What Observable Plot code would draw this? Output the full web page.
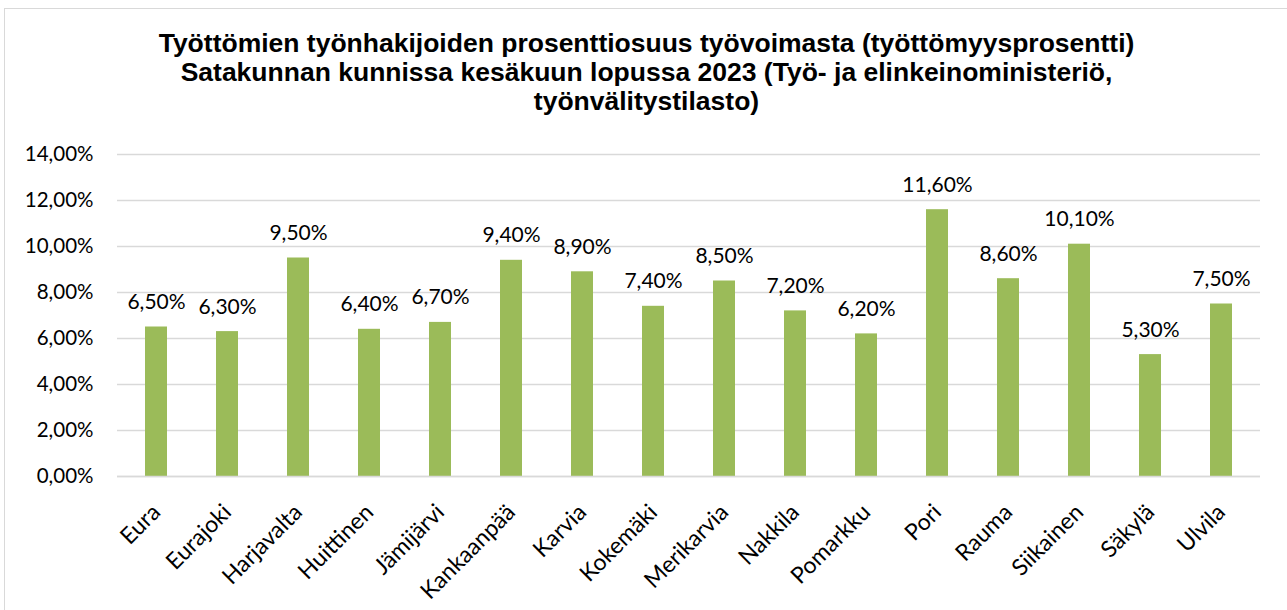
<!DOCTYPE html>
<html>
<head>
<meta charset="utf-8">
<script src="https://cdn.jsdelivr.net/npm/d3@7"></script>
<script src="https://cdn.jsdelivr.net/npm/@observablehq/plot@0.6"></script>
<style>
  html, body { margin: 0; padding: 0; background: #fff; overflow: hidden; }
  #frame { position: absolute; left: 4px; top: 8px; width: 1290px; height: 620px; border: 1px solid #d9d9d9; box-sizing: border-box; }
  #title { position: absolute; left: 0; top: 29px; width: 1293px; text-align: center; font-family: "Liberation Sans", Arial, sans-serif; font-weight: bold; font-size: 26.5px; line-height: 29px; color: #000; }
  #chart { position: absolute; left: 0; top: 130px; }
</style>
</head>
<body>
<div id="frame"></div>
<div id="title">Työttömien työnhakijoiden prosenttiosuus työvoimasta (työttömyysprosentti)<br>Satakunnan kunnissa kesäkuun lopussa 2023 (Työ- ja elinkeinoministeriö,<br>työnvälitystilasto)</div>
<div id="chart"></div>
<script>
const municipalities = ["Eura","Eurajoki","Harjavalta","Huittinen","Jämijärvi","Kankaanpää","Karvia","Kokemäki","Merikarvia","Nakkila","Pomarkku","Pori","Rauma","Siikainen","Säkylä","Ulvila"];
const rates = [6.5, 6.3, 9.5, 6.4, 6.7, 9.4, 8.9, 7.4, 8.5, 7.2, 6.2, 11.6, 8.6, 10.1, 5.3, 7.5];
const yTicks = [0, 2, 4, 6, 8, 10, 12, 14];

const data = municipalities.map((m, i) => ({name: m, value: rates[i]}));
const fmt = v => v.toFixed(2).replace(".", ",") + "%";
const font = "Lato, 'Open Sans', sans-serif";

const chart = Plot.plot({
  width: 1287,
  height: 480,
  marginTop: 24,
  marginBottom: 134,
  marginLeft: 117,
  marginRight: 27,
  style: {fontFamily: font, fontSize: "20px", color: "#000", background: "transparent"},
  x: {domain: municipalities, paddingInner: 0.69, paddingOuter: 0.345, label: null},
  y: {domain: [0, 14], label: null},
  marks: [
    Plot.gridY(yTicks, {stroke: "#d9d9d9", strokeOpacity: 1, strokeWidth: 1.5}),
    Plot.barY(data, {x: "name", y: "value", fill: "#9bbb59"}),
    Plot.ruleY([0], {stroke: "#d9d9d9", strokeWidth: 1.5}),
    Plot.text(data, {x: "name", y: "value", text: d => fmt(d.value), dy: -18, lineAnchor: "bottom", fontSize: 21, fill: "#000"}),
    Plot.axisY({ticks: yTicks, tickFormat: fmt, tickSize: 0, tickPadding: 24, fontSize: 20.5, label: null}),
    Plot.axisX({tickRotate: -45, tickSize: 0, tickPadding: 32, fontSize: 23, label: null})
  ]
});
document.getElementById("chart").appendChild(chart);
</script>
</body>
</html>
